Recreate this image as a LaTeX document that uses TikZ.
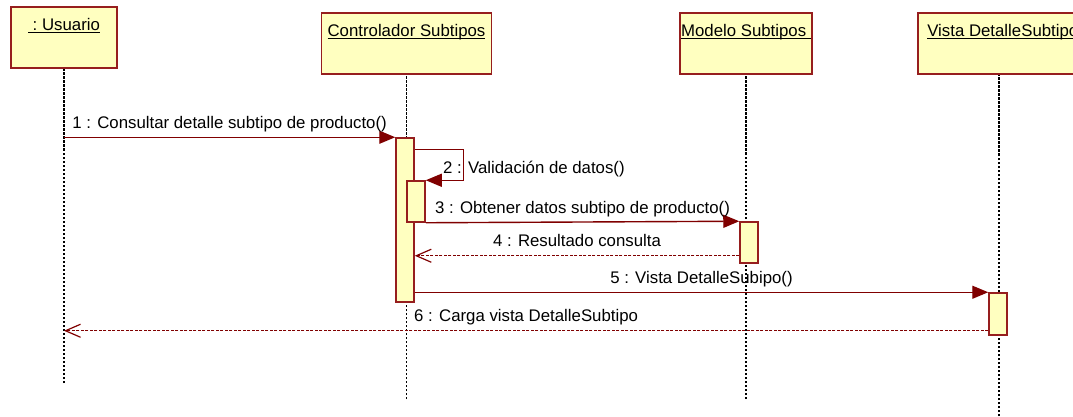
\documentclass[tikz,border=0pt]{standalone}
\usepackage{fontspec}
\setmainfont{Liberation Sans}
\usetikzlibrary{arrows.meta}
\usetikzlibrary{calc}
\definecolor{umlfill}{RGB}{255,255,192}
\definecolor{umlline}{RGB}{150,30,30}
\definecolor{msgline}{RGB}{128,0,0}
\newcommand{\objname}[1]{\setbox0\hbox{#1}\rlap{\rule[-2.5pt]{\wd0}{1pt}}\box0}
\tikzset{
obj/.style={rectangle, draw=umlline, fill=umlfill, line width=1.5pt, minimum height=61pt, text height=12pt, text depth=26pt, inner sep=0pt, font=\fontsize{16.8}{20}\selectfont},
act/.style={rectangle, draw=umlline, fill=umlfill, line width=1.5pt, minimum width=18pt, inner sep=0pt},
lifeline/.style={black, line width=1.2pt, dash pattern=on 2.5pt off 1.5pt},
msg/.style={msgline, line width=1.4pt, -{Triangle[length=16pt,width=13pt]}},
reply/.style={msgline, line width=1.2pt, dash pattern=on 3pt off 1.5pt, -{Straight Barb[length=15pt,width=13pt]}},
lbl/.style={anchor=base, yshift=9pt, text=black, inner sep=0pt, font=\fontsize{16.8}{20}\selectfont}
}

\begin{document}
\begin{tikzpicture}[x=1pt,y=-1pt]
\clip (0,0) rectangle (1073,417);
\coordinate (usuarioEnd) at (64,383);
\coordinate (controladorEnd) at (406.5,399);
\coordinate (modeloEnd) at (746,399);
\coordinate (vistaEnd) at (999,420);
\draw[lifeline] (usuarioEnd) -- ++(0,-340);
\draw[lifeline] (controladorEnd) -- ++(0,-340);
\draw[lifeline] (modeloEnd) -- ++(0,-340);
\draw[lifeline] (vistaEnd) -- ++(0,-360);

\node[obj, minimum width=106pt] (usuario) at (64,37.5) {\objname{\ :\ Usuario}};
\node[obj, minimum width=170pt] (controlador) at (406.5,43.5) {\objname{Controlador Subtipos}};
\node[obj, minimum width=132pt] (modelo) at (746,43.5) {\objname{Modelo Subtipos\ }};
\node[obj, minimum width=178pt] (vista) at (1007,43.5) {\objname{Vista DetalleSubtipos}};

\node[act, minimum height=164pt] (ctrlAct) at (405,220) {};
\node[act, minimum height=41pt] (nestAct) at (416,201.5) {};
\node[act, minimum height=41pt] (modAct) at (749,242.5) {};
\node[act, minimum height=42pt] (vistaAct) at (998,314) {};

\draw[msg] (usuario |- ctrlAct.north west) -- (ctrlAct.north west)
  node[lbl, midway] (m1) {1 : Consultar detalle subtipo de producto()};
\draw[msg] (ctrlAct.north east) ++(0,12) -- ++(49,0) |- (nestAct.north east);
\node[lbl, anchor=base west] (m2) at (443,182) {2 : Validación de datos()};
\draw[msg] (nestAct.south east) -- (modAct.north west)
  node[lbl, midway] (m3) {3 : Obtener datos subtipo de producto()};
\coordinate (r4) at ($(modAct.south west)+(0,-8)$);
\draw[reply] (r4) -- (r4 -| ctrlAct.east)
  node[lbl, midway] (m4) {4 : Resultado consulta};
\draw[msg] (ctrlAct.east |- vistaAct.north west) -- (vistaAct.north west)
  node[lbl, midway] (m5) {5 : Vista DetalleSubipo()};
\coordinate (r6) at ($(vistaAct.south west)+(0,-5)$);
\draw[reply] (r6) -- (r6 -| usuario)
  node[lbl, midway] (m6) {6 : Carga vista DetalleSubtipo};
\end{tikzpicture}
\end{document}
